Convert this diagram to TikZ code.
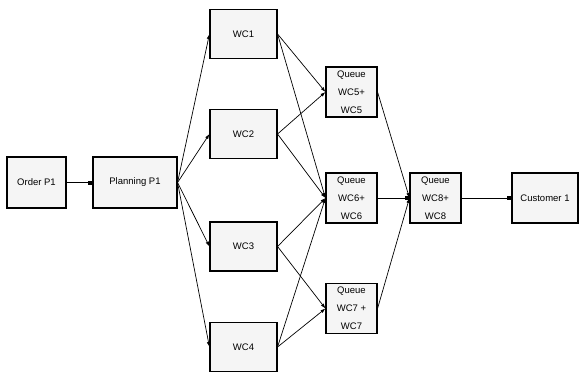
\documentclass[tikz,border=0pt]{standalone}
\usepackage{fontspec}
\setmainfont{Liberation Sans}
\usepackage{tikz}
\usetikzlibrary{arrows.meta}

\begin{document}
\begin{tikzpicture}[x=1pt, y=-1pt, every node/.style={font=\fontsize{9.5}{18}\selectfont},
	box/.style={draw, line width=1.1pt, fill=gray!8, inner sep=0pt},
	qbox/.style={box, minimum width=51pt, minimum height=50pt, align=center},
	flow/.style={->, line width=0.7pt, >={Latex[length=5pt,width=3.5pt]}},
	sqflow/.style={-{Square[length=4pt,width=4pt]}, line width=0.7pt}]
	\useasboundingbox (0,0) rectangle (583,372);
	\node[box, minimum width=59pt, minimum height=51pt] (order) at (36.5,182.5) {Order P1};
	\node[box, minimum width=84pt, minimum height=51pt] (plan) at (135,182.5) {Planning P1};
	\node[box, minimum width=67pt, minimum height=49pt] (wc1) at (243.5,34) {WC1};
	\node[box, minimum width=67pt, minimum height=49pt] (wc2) at (243.5,134) {WC2};
	\node[box, minimum width=67pt, minimum height=49pt] (wc3) at (243.5,246.5) {WC3};
	\node[box, minimum width=67pt, minimum height=49pt] (wc4) at (243.5,347) {WC4};
	\node[qbox] (q5) at (351.5,92) {Queue\\WC5+\\WC5};
	\node[qbox] (q6) at (351.5,198) {Queue\\WC6+\\WC6};
	\node[qbox] (q7) at (351.5,308.5) {Queue\\WC7 +\\WC7};
	\node[qbox] (q8) at (435.5,198) {Queue\\WC8+\\WC8};
	\node[box, minimum width=66pt, minimum height=50pt] (cust) at (545,198) {Customer 1};
	\draw[sqflow] (order) -- (plan);
	\foreach \w in {wc1,wc2,wc3,wc4}
		\draw[flow] (plan.east) -- (\w.west);
	\draw[flow] (wc1.east) -- (q5.west);
	\draw[flow] (wc1.east) -- (q6.west);
	\draw[flow] (wc2.east) -- (q5.west);
	\draw[flow] (wc2.east) -- (q6.west);
	\draw[flow] (wc3.east) -- (q6.west);
	\draw[flow] (wc3.east) -- (q7.west);
	\draw[flow] (wc4.east) -- (q6.west);
	\draw[flow] (wc4.east) -- (q7.west);
	\draw[flow] (q5.east) -- (q8.west);
	\draw[sqflow] (q6) -- (q8);
	\draw[flow] (q7.east) -- (q8.west);
	\draw[sqflow] (q8) -- (cust);
\end{tikzpicture}
\end{document}
